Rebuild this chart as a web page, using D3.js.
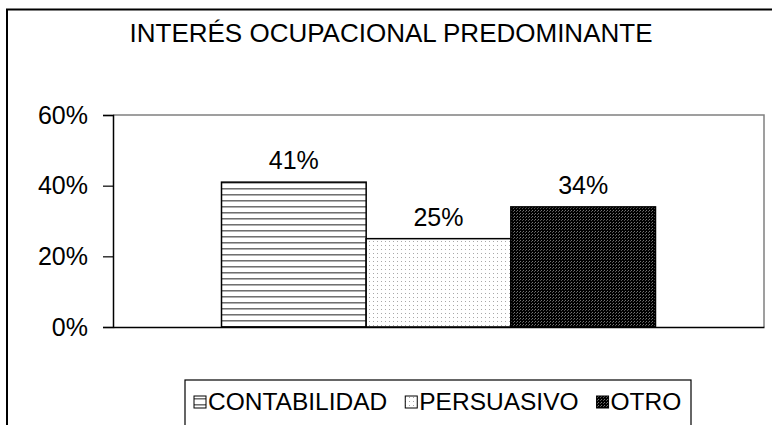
<!DOCTYPE html>
<html><head><meta charset="utf-8">
<script src="https://cdn.jsdelivr.net/npm/d3@7"></script>
<style>body{margin:0;background:#fff}svg{display:block;font-family:Arial,"Liberation Sans",sans-serif}</style>
</head><body>
<script>
const title = "INTERÉS OCUPACIONAL PREDOMINANTE";
const categories = ["CONTABILIDAD", "PERSUASIVO", "OTRO"];
const values = [0.41, 0.25, 0.34];
const labels = ["41%", "25%", "34%"];
const yTicks = [0, 0.2, 0.4, 0.6];
const patterns = ["pHoriz", "pDots", "pDark"];

const W = 772, H = 425;
const svg = d3.select("body").append("svg").attr("width", W).attr("height", H);
const defs = svg.append("defs");

// horizontal lines
const p1 = defs.append("pattern").attr("id","pHoriz").attr("patternUnits","userSpaceOnUse").attr("width",6).attr("height",6);
p1.append("rect").attr("width",6).attr("height",6).attr("fill","#fff");
p1.append("rect").attr("y",2).attr("width",6).attr("height",1).attr("fill","#707070");
p1.append("rect").attr("y",3).attr("width",6).attr("height",1).attr("fill","#b0b0b0");
// light dots
const p2 = defs.append("pattern").attr("id","pDots").attr("patternUnits","userSpaceOnUse").attr("width",4).attr("height",4);
p2.append("rect").attr("width",4).attr("height",4).attr("fill","#fff");
p2.append("rect").attr("x",1).attr("y",1).attr("width",1).attr("height",1).attr("fill","#a8a8a8");
// dark
const p3 = defs.append("pattern").attr("id","pDark").attr("patternUnits","userSpaceOnUse").attr("width",3).attr("height",3);
p3.append("rect").attr("width",3).attr("height",3).attr("fill","#000");
p3.append("rect").attr("x",1).attr("y",0).attr("width",1).attr("height",1).attr("fill","#777");
p3.append("rect").attr("x",0).attr("y",1).attr("width",1).attr("height",1).attr("fill","#555");

// outer frame
svg.append("path").attr("d","M7,430 V9.5 H780").attr("fill","none").attr("stroke","#000").attr("stroke-width",2);

// title
svg.append("text").attr("x",391).attr("y",42).attr("text-anchor","middle")
  .attr("font-size",26).attr("fill","#000").text(title);

const m = {l:113, r:764, t:115, b:327};
const x = d3.scaleBand().domain(["g"]).range([m.l, m.r]).paddingInner(0).paddingOuter(0);
const x1 = d3.scaleBand().domain(categories).range([0, x.bandwidth()]).paddingOuter(0.75).paddingInner(0);
const y = d3.scaleLinear().domain([0, 0.6]).range([m.b, m.t]);

// plot area top/right border
svg.append("path").attr("d",`M${m.l},${m.t} H${m.r} V${m.b}`).attr("fill","none").attr("stroke","#808080").attr("stroke-width",1.5);

// bars
svg.append("g").selectAll("rect").data(categories).join("rect")
  .attr("x", (d)=> x("g") + x1(d))
  .attr("y", (d,i)=> y(values[i]))
  .attr("width", x1.bandwidth())
  .attr("height", (d,i)=> y(0) - y(values[i]))
  .attr("fill", (d,i)=> `url(#${patterns[i]})`)
  .attr("stroke","#000").attr("stroke-width",1.5);

// data labels
svg.append("g").selectAll("text").data(categories).join("text")
  .attr("x", d=> x("g") + x1(d) + x1.bandwidth()/2)
  .attr("y", (d,i)=> y(values[i]) - 13)
  .attr("text-anchor","middle").attr("font-size",25).attr("fill","#000")
  .text((d,i)=> labels[i]);

// y axis
const yAxis = d3.axisLeft(y).tickValues(yTicks).tickFormat(d3.format(".0%")).tickSize(10).tickPadding(15);
const gy = svg.append("g").attr("transform",`translate(${m.l},0)`).call(yAxis);
gy.select(".domain").attr("stroke","#000").attr("stroke-width",1.5);
gy.selectAll(".tick line").attr("stroke","#000").attr("stroke-width",1.2);
gy.selectAll(".tick text").attr("font-size",25).attr("font-family","Arial,'Liberation Sans',sans-serif").attr("fill","#000");

// x axis baseline
const xAxis = d3.axisBottom(x).tickSize(0).tickFormat("");
const gx = svg.append("g").attr("transform",`translate(0,${m.b})`).call(xAxis);
gx.select(".domain").attr("stroke","#000").attr("stroke-width",1.5);

// legend (items laid out sequentially)
const lg = svg.append("g");
lg.append("rect").attr("x",185).attr("y",380).attr("width",506).attr("height",60).attr("fill","#fff").attr("stroke","#000").attr("stroke-width",1.2);
let cx = 194;
categories.forEach((c,i)=>{
  lg.append("rect").attr("x",cx).attr("y",396).attr("width",12).attr("height",12)
    .attr("fill",`url(#${patterns[i]})`).attr("stroke","#000").attr("stroke-width",1);
  const t = lg.append("text").attr("x",cx+14).attr("y",410).attr("font-size",24.5).attr("fill","#000").text(c);
  cx += 14 + t.node().getComputedTextLength() + 18;
});
</script>
</body></html>
